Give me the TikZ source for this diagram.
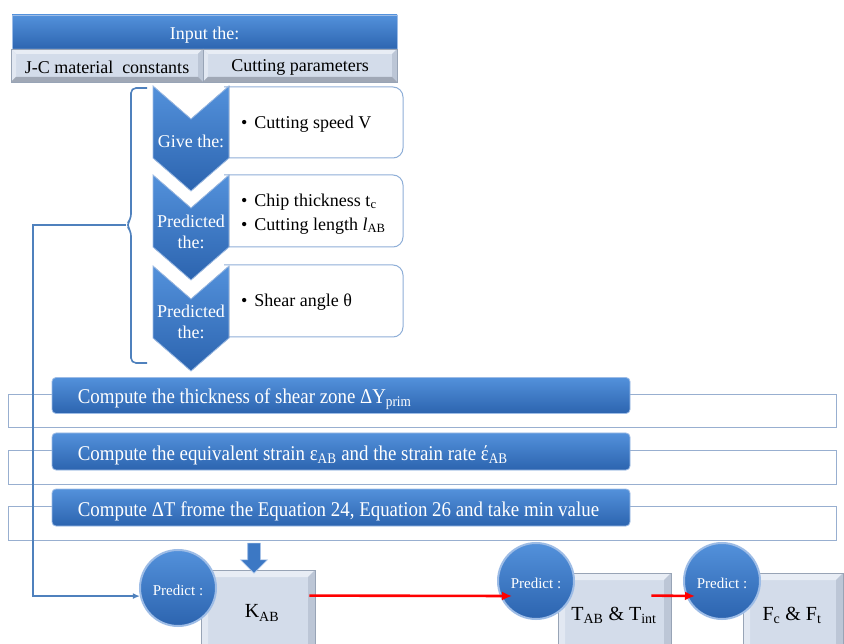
\documentclass[tikz,border=0pt]{standalone}
\usepackage{fontspec}
\setmainfont{Liberation Serif}
\newfontfamily\narrowfont[FakeStretch=0.9]{Liberation Serif}
\usetikzlibrary{shapes.arrows,calc,arrows.meta}
\definecolor{blueT}{HTML}{5391DB}
\definecolor{blueB}{HTML}{2C64AF}
\definecolor{blueM}{HTML}{3C78C4}
\definecolor{blueEdge}{HTML}{9DBCE6}
\definecolor{lightbox}{HTML}{D3DCEA}
\definecolor{lightedge}{HTML}{98A4B6}
\definecolor{bevhi}{HTML}{E8EDF5}
\definecolor{bevlo}{HTML}{BCC6D6}
\definecolor{linecol}{HTML}{4F81BD}
\definecolor{wborder}{HTML}{8FAFD8}
\definecolor{bgborder}{HTML}{98AFD0}
\tikzset{
  bluebox/.style={draw=blueEdge, line width=0.8pt, top color=blueT, bottom color=blueB, inner sep=0pt},
  bevelbox/.style={fill=lightbox, draw=lightedge, line width=0.8pt, inner sep=0pt,
    path picture={
      \path (path picture bounding box.north west) coordinate (bvnw)
            (path picture bounding box.north east) coordinate (bvne)
            (path picture bounding box.south west) coordinate (bvsw)
            (path picture bounding box.south east) coordinate (bvse);
      \fill[bevhi] (bvnw) -- (bvne) -- ([shift={(-#1,-#1)}]bvne) -- ([shift={(#1,-#1)}]bvnw) -- cycle;
      \fill[bevhi!70!lightbox] (bvnw) -- (bvsw) -- ([shift={(#1,#1)}]bvsw) -- ([shift={(#1,-#1)}]bvnw) -- cycle;
      \fill[bevlo] (bvne) -- (bvse) -- ([shift={(-#1,#1)}]bvse) -- ([shift={(-#1,-#1)}]bvne) -- cycle;
      \fill[bevlo!85!black] (bvsw) -- (bvse) -- ([shift={(-#1,#1)}]bvse) -- ([shift={(#1,#1)}]bvsw) -- cycle;
    }},
  bevelbox/.default=6pt,
  chev/.style={draw=blueEdge, line width=0.8pt, top color=blueT, bottom color=blueB},
  wbox/.style={fill=white, draw=wborder, line width=1pt, rounded corners=10pt},
  bgbar/.style={draw=bgborder, fill=white, line width=1pt, inner sep=0pt},
  conn/.style={draw=linecol, line width=1.6pt},
  redarrow/.style={draw=red, line width=2.6pt, -{Latex[length=10pt,width=9pt]}},
  circ/.style={circle, minimum size=76pt, inner sep=0pt, top color=blueT, bottom color=blueB, draw=blueEdge, line width=2pt},
  circtext/.style={text=white, font=\fontsize{15}{17}\selectfont, inner sep=0pt, yshift=-2pt},
  wtext/.style={text=white, font=\fontsize{18}{21}\selectfont, inner sep=0pt},
  ltext/.style={text=black, font=\fontsize{18}{21}\selectfont, inner sep=0pt, yshift=-2pt},
  btext/.style={text=black, font=\fontsize{18}{24}\selectfont, inner sep=0pt, anchor=west, align=left, yshift=-2pt},
  bartext/.style={text=white, font=\narrowfont\fontsize{21}{24}\selectfont, inner sep=0pt, anchor=west, yshift=-3.5pt},
  boxtext/.style={text=black, font=\fontsize{20}{22}\selectfont, inner sep=0pt, yshift=-2pt},
  downarr/.style={single arrow, single arrow head extend=7pt, single arrow tip angle=90, minimum height=30pt, minimum width=26pt, inner sep=6pt, fill=blueM, draw=blueEdge, line width=0.6pt, rotate=-90}
}
\begin{document}
\begin{tikzpicture}[x=1pt,y=-1pt]
\useasboundingbox (0,0) rectangle (844,644);
\clip (0,0) rectangle (844,644);
\fill[white] (0,0) rectangle (844,644);

% input header
\node[bluebox, minimum width=385pt, minimum height=35pt] (input) at (204.5,32.5) {};
\node[wtext, yshift=-3pt] (inputt) at (input.center) {Input the:};
\node[bevelbox=5pt, minimum width=192pt, minimum height=33pt] (jc) at (107,65.5) {};
\node[ltext] (jct) at (jc.center) {J-C material\ \ constants};
\node[bevelbox=5pt, minimum width=194pt, minimum height=33pt] (cp) at (300,65.5) {};
\node[ltext] (cpt) at (cp.center) {Cutting parameters};

% white boxes
\filldraw[wbox] (224,87) -- (403,87) -- (403,158) -- (224,158);
\filldraw[wbox] (224,175) -- (403,175) -- (403,247) -- (224,247);
\filldraw[wbox] (224,265) -- (403,265) -- (403,337) -- (224,337);

% chevrons
\foreach \y in {86,175,266}{
  \filldraw[chev] (153,\y) -- (191,\y+33) -- (229,\y) -- (229,\y+72) -- (191,\y+105) -- (153,\y+72) -- cycle;
}
\node[wtext] (c1) at (191,141) {Give the:};
\node[wtext, align=center] (c2) at (191,232) {Predicted\\the:};
\node[wtext, align=center] (c3) at (191,322) {Predicted\\the:};

\node[btext] (v1) at (241,122) {\textbullet\hspace{7pt}Cutting speed V};
\node[btext] (v2) at (241,212) {\textbullet\hspace{7pt}Chip thickness t\textsubscript{c}\\\textbullet\hspace{7pt}Cutting length \textit{l}\textsubscript{AB}};
\node[btext] (v3) at (241,300) {\textbullet\hspace{7pt}Shear angle θ};

% brace
\coordinate (bracetip) at (126,225);
\draw[conn, rounded corners=5pt] (147,88) -- (131,88) -- (131,219) -- (bracetip) -- (131,231) -- (131,363) -- (147,363);

% bars
\node[bgbar, minimum width=828pt, minimum height=33pt] (bg1) at (422,411.5) {};
\node[bgbar, minimum width=828pt, minimum height=34pt] (bg2) at (422,467) {};
\node[bgbar, minimum width=828pt, minimum height=34pt] (bg3) at (422,523) {};
\node[bluebox, rounded corners=4pt, minimum width=578pt, minimum height=36pt] (b1) at (341,395.5) {};
\node[bluebox, rounded corners=4pt, minimum width=578pt, minimum height=37pt] (b2) at (341,451.5) {};
\node[bluebox, rounded corners=4pt, minimum width=578pt, minimum height=37pt] (b3) at (341,507.5) {};
\node[bartext] (b1t) at ([xshift=26pt]b1.west) {Compute the thickness of shear zone ΔY\textsubscript{prim}};
\node[bartext] (b2t) at ([xshift=26pt]b2.west) {Compute the equivalent strain ε\textsubscript{AB} and the strain rate έ\textsubscript{AB}};
\node[bartext] (b3t) at ([xshift=26pt]b3.west) {Compute ΔT frome the Equation 24, Equation 26 and take min value};

% bottom row
\node[bevelbox=7pt, minimum width=114pt, minimum height=82pt] (kab) at (258,611) {};
\node[boxtext] (kabt) at (262,611) {K\textsubscript{AB}};
\node[bevelbox=7pt, minimum width=113pt, minimum height=80pt] (tab) at (614.5,613) {};
\node[boxtext] (tabt) at (614,613) {T\textsubscript{AB} \& T\textsubscript{int}};
\node[bevelbox=7pt, minimum width=100pt, minimum height=80pt] (fct) at (793,613) {};
\node[boxtext] (fctt) at (792,613) {F\textsubscript{c} \& F\textsubscript{t}};

\node[downarr] (darr) at (254,555) {};

\node[circ] (p1) at (178,588) {};
\node[circ] (p2) at (536,581) {};
\node[circ] (p3) at (722,581) {};
\node[circtext] (p1t) at (p1.center) {Predict :};
\node[circtext] (p2t) at (p2.center) {Predict :};
\node[circtext] (p3t) at (p3.center) {Predict :};

% connectors
\draw[conn, -{Latex[length=7pt,width=6pt]}] (bracetip) -- (33,225) |- (p1.192);
\draw[redarrow] ($(kab.north east)+(-6,26)$) -- ($(p2.center)+(-24,15)$);
\draw[redarrow] ($(tab.north east)+(-20,23)$) -- ($(p3.center)+(-27,15)$);
\end{tikzpicture}
\end{document}
